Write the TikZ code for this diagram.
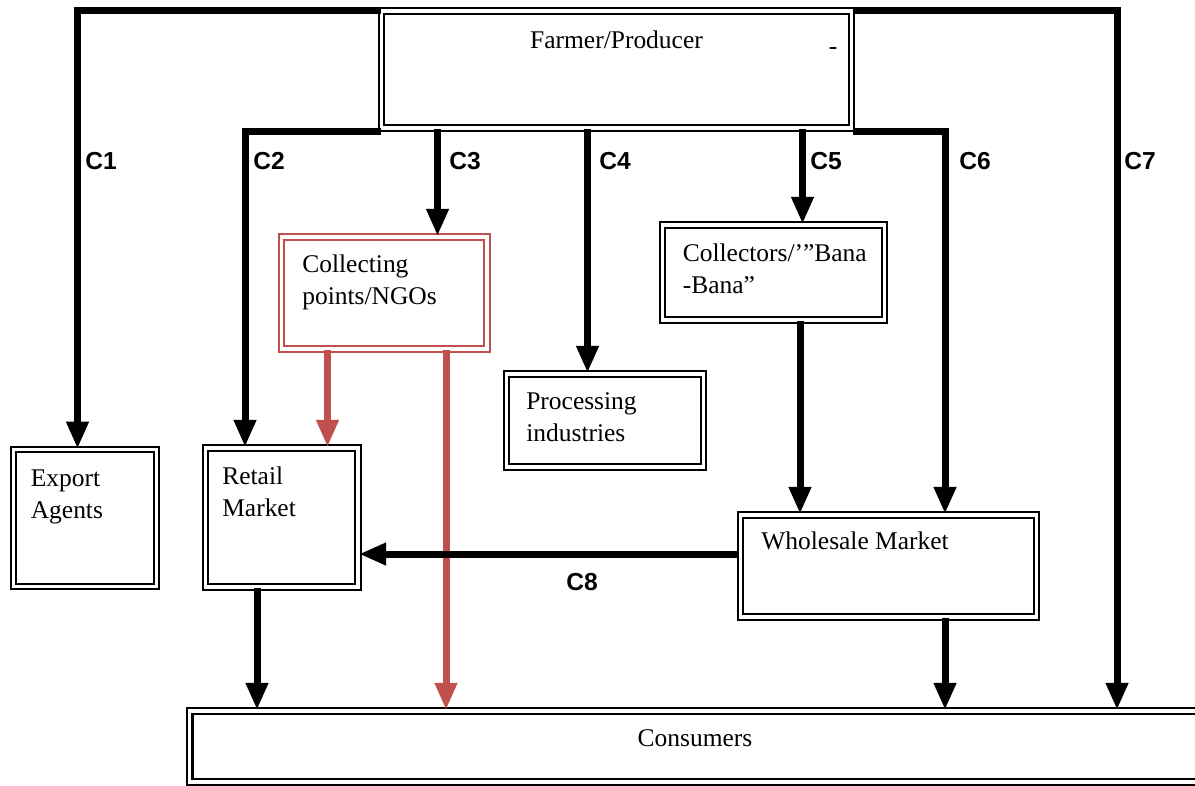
\documentclass[tikz,border=0pt]{standalone}
\usepackage{fontspec}
\setmainfont{Liberation Serif}
\newfontfamily\canalfont{Liberation Sans}
\usetikzlibrary{arrows.meta, positioning}
\definecolor{ngored}{HTML}{C0504D}

\begin{document}
\begin{tikzpicture}[
    x=0.02cm, y=-0.02cm,
    every node/.style={font=\fontsize{14.5}{18.4}\selectfont},
    caixa/.style={
        draw=black,
        line width=1.2pt,
        double=white,
        double distance=1.8pt,
        inner sep=0pt
    },
    texto/.style={
        align=left,
        inner sep=0pt,
        anchor=base west
    },
    canal/.style={
        font=\canalfont\fontsize{14}{16}\selectfont\bfseries
    },
    fluxo/.style={
        line width=0.14cm,
        -{Triangle[width=0.42cm,length=0.54cm]}
    }
]

\useasboundingbox (0,0) rectangle (1195,785);

% ============================================================
% CAIXAS
% ============================================================

\node[
    caixa,
    minimum width=9.4cm,
    minimum height=2.34cm
] (farmer) at (616.5,69.5) {};

\node[
    anchor=base,
    inner sep=0pt
] (farmer-txt) at ([shift={(0,39)}]farmer.north)
{Farmer/Producer};

\node[inner sep=0pt] (farmer-dash) at (833,51) {-};

\node[
    caixa,
    minimum width=2.86cm,
    minimum height=2.73cm
] (export) at (85,518) {};

% base = ultima linha
\node[texto] (export-txt) at ([shift={(18,70)}]export.north west)
{Export\\Agents};

\node[
    caixa,
    minimum width=3.05cm,
    minimum height=2.78cm
] (retail) at (281.75,517.5) {};

\node[texto] (retail-txt) at ([shift={(17.5,70)}]retail.north west)
{Retail\\Market};

\node[
    caixa,
    draw=ngored,
    minimum width=4.11cm,
    minimum height=2.24cm
] (collecting) at (384.25,293) {};

\node[texto] (collecting-txt) at ([shift={(21.5,69)}]collecting.north west)
{Collecting\\points/NGOs};

\node[
    caixa,
    minimum width=3.94cm,
    minimum height=1.86cm
] (processing) at (605,420.5) {};

\node[texto] (processing-txt) at ([shift={(20.5,69)}]processing.north west)
{Processing\\industries};

\node[
    caixa,
    minimum width=4.44cm,
    minimum height=1.9cm
] (collectors) at (773.5,272.5) {};

\node[texto] (collectors-txt) at ([shift={(21,70)}]collectors.north west)
{Collectors/’”Bana\\-Bana”};

\node[
    caixa,
    minimum width=5.92cm,
    minimum height=2.04cm
] (wholesale) at (888.5,566) {};

\node[texto] (wholesale-txt) at ([shift={(21.5,36)}]wholesale.north west)
{Wholesale Market};

\node[
    caixa,
    minimum width=20.5cm,
    minimum height=1.42cm
] (consumers) at (702.25,746.5) {};

\node[
    anchor=base,
    inner sep=0pt
] (consumers-txt) at (695,746)
{Consumers};

% ============================================================
% CANAIS
% ============================================================

% C1 e C7 (linha de cima)
\draw[fluxo] ([shift={(0,1)}]farmer.north west) -| ([shift={(-7.5,0)}]export.north);
\draw[fluxo] ([shift={(0,1)}]farmer.north east) -| ([shift={(414.75,0)}]consumers.north);

% C2 e C6
\draw[fluxo] ([shift={(0,2.5)}]farmer.south west) -| ([shift={(-36.75,0)}]retail.north);
\draw[fluxo] ([shift={(0,2.5)}]farmer.south east) -| ([shift={(56.5,0)}]wholesale.north);

% C3, C4, C5
\draw[fluxo] ([shift={(53.25,0)}]collecting.north |- farmer.south) -- ([shift={(53.25,0)}]collecting.north);
\draw[fluxo] ([shift={(-17.5,0)}]processing.north |- farmer.south) -- ([shift={(-17.5,0)}]processing.north);
\draw[fluxo] ([shift={(29,0)}]collectors.north |- farmer.south) -- ([shift={(29,0)}]collectors.north);

% Collectors -> Wholesale
\draw[fluxo] ([shift={(26.5,0)}]collectors.south) -- ([shift={(26.5,0)}]collectors.south |- wholesale.north);

% NGOs (vermelho)
\draw[fluxo, ngored] ([shift={(-56.75,0)}]collecting.south) -- ([shift={(-56.75,0)}]collecting.south |- retail.north);
\draw[fluxo, ngored] ([shift={(61.75,0)}]collecting.south) -- ([shift={(61.75,0)}]collecting.south |- consumers.north);

% Para os consumidores
\draw[fluxo] ([shift={(-24.75,0)}]retail.south) -- ([shift={(-24.75,0)}]retail.south |- consumers.north);
\draw[fluxo] ([shift={(56.5,0)}]wholesale.south) -- ([shift={(56.5,0)}]wholesale.south |- consumers.north);

% C8
\draw[fluxo] ([shift={(0,-12)}]wholesale.west) -- ([shift={(0,-12)}]wholesale.west -| retail.east);

% ============================================================
% ROTULOS
% ============================================================

\node[canal] (c1) at (101,161) {C1};
\node[canal] (c2) at (269,161) {C2};
\node[canal] (c3) at (465,161) {C3};
\node[canal] (c4) at (615,161) {C4};
\node[canal] (c5) at (826,161) {C5};
\node[canal] (c6) at (975,161) {C6};
\node[canal] (c7) at (1140,161) {C7};
\node[canal] (c8) at (582,582) {C8};

\end{tikzpicture}
\end{document}
